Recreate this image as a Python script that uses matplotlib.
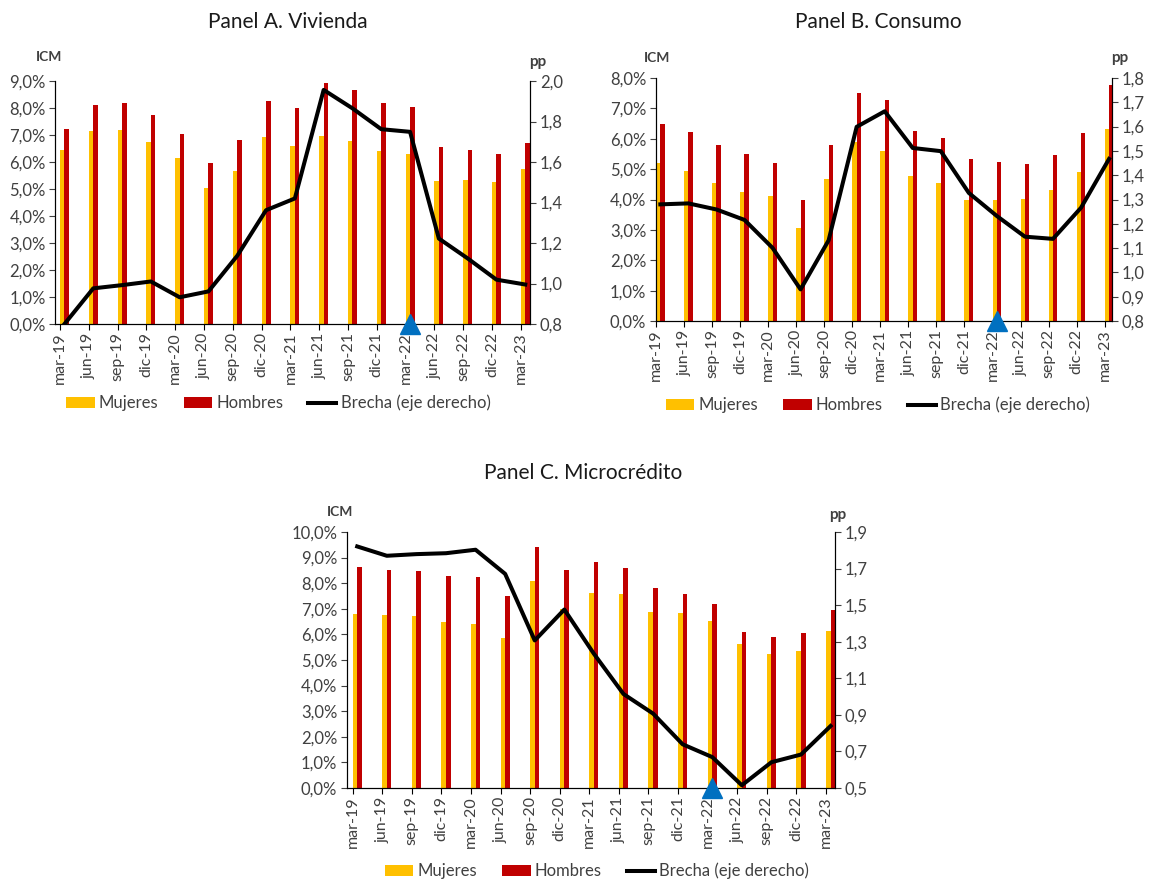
import matplotlib
matplotlib.use('Agg')
import matplotlib.pyplot as plt
import numpy as np
from matplotlib.ticker import FuncFormatter, MultipleLocator

plt.rcParams['font.family'] = ['Lato', 'DejaVu Sans']

fechas = ['mar-19', 'jun-19', 'sep-19', 'dic-19', 'mar-20', 'jun-20', 'sep-20', 'dic-20',
          'mar-21', 'jun-21', 'sep-21', 'dic-21', 'mar-22', 'jun-22', 'sep-22', 'dic-22', 'mar-23']

# Panel A. Vivienda
mujeres_a = [6.44, 7.14, 7.20, 6.74, 6.14, 5.03, 5.67, 6.92, 6.61, 6.97, 6.77, 6.41, 6.28, 5.31, 5.33, 5.25, 5.73]
hombres_a = [7.24, 8.11, 8.17, 7.75, 7.05, 5.98, 6.81, 8.26, 8.01, 8.91, 8.65, 8.17, 8.04, 6.55, 6.46, 6.29, 6.71]
brecha_a = [0.80, 0.976, 0.992, 1.010, 0.932, 0.961, 1.137, 1.362, 1.420, 1.956, 1.865, 1.762, 1.749, 1.222, 1.124, 1.019, 0.995]

# Panel B. Consumo
mujeres_b = [5.21, 4.94, 4.53, 4.26, 4.13, 3.05, 4.68, 5.90, 5.60, 4.78, 4.55, 4.00, 4.00, 4.02, 4.30, 4.92, 6.31]
hombres_b = [6.49, 6.22, 5.78, 5.50, 5.21, 3.97, 5.80, 7.50, 7.27, 6.27, 6.04, 5.32, 5.22, 5.17, 5.45, 6.18, 7.76]
brecha_b = [1.280, 1.284, 1.259, 1.216, 1.101, 0.930, 1.132, 1.599, 1.663, 1.512, 1.499, 1.327, 1.232, 1.147, 1.138, 1.266, 1.467]

# Panel C. Microcrédito
mujeres_c = [6.78, 6.75, 6.70, 6.50, 6.41, 5.85, 8.10, 7.01, 7.60, 7.56, 6.88, 6.82, 6.54, 5.61, 5.23, 5.35, 6.12]
hombres_c = [8.62, 8.51, 8.48, 8.28, 8.23, 7.50, 9.41, 8.51, 8.82, 8.60, 7.80, 7.56, 7.20, 6.09, 5.88, 6.04, 6.97]
brecha_c = [1.821, 1.770, 1.779, 1.784, 1.803, 1.671, 1.307, 1.476, 1.234, 1.014, 0.907, 0.739, 0.669, 0.515, 0.641, 0.683, 0.839]

marca = 'mar-22'

amarillo = '#FFC000'
rojo = '#C00000'
gris = '#404040'
W, H = 1154, 881


def pct(v, pos):
    return ('%.1f%%' % v).replace('.', ',')


def dec(v, pos):
    return ('%.1f' % v).replace('.', ',')


def panel(rect, mujeres, hombres, brecha, ymax, y2, paso2, xlim, titulo, tpos, icm, pp, leg):
    ax = fig.add_axes(rect)
    x = np.arange(len(fechas))
    w = 0.155
    ax.bar(x, mujeres, width=w, align='edge', color=amarillo, label='Mujeres', zorder=2)
    ax.bar(x + w, hombres, width=w, align='edge', color=rojo, label='Hombres', zorder=2)
    ax.set_ylim(0, ymax)
    ax.set_xlim(*xlim)
    ax.yaxis.set_major_locator(MultipleLocator(1))
    ax.yaxis.set_major_formatter(FuncFormatter(pct))
    ax.set_xticks(x)
    ax.set_xticklabels(fechas, rotation=90, fontsize=11.5, color=gris)
    ax.tick_params(axis='y', labelsize=12, colors=gris, length=4, pad=3)
    ax.tick_params(axis='x', length=4, pad=2)
    ax.spines['top'].set_visible(False)

    ax2 = ax.twinx()
    ax2.plot(x + w, brecha, color='black', lw=2.9, label='Brecha (eje derecho)', zorder=3)
    ax2.set_ylim(*y2)
    ax2.set_yticks(np.arange(y2[0], y2[1] + paso2 / 2, paso2))
    ax2.yaxis.set_major_formatter(FuncFormatter(dec))
    ax2.tick_params(axis='y', labelsize=12, colors=gris, length=4, pad=3)
    ax2.spines['top'].set_visible(False)
    i = fechas.index(marca)
    ax2.plot([i + w], [y2[0]], marker='^', markersize=15, color='#0070C0', clip_on=False, zorder=5)

    fig.text(tpos[0] / W, 1 - tpos[1] / H, titulo, ha='center', va='center', fontsize=15, color='#1a1a1a')
    fig.text(icm[0] / W, 1 - icm[1] / H, 'ICM', ha='center', va='center', fontsize=10, fontweight='bold', color=gris)
    fig.text(pp[0] / W, 1 - pp[1] / H, 'pp', ha='center', va='center', fontsize=11, fontweight='bold', color=gris)

    h1, l1 = ax.get_legend_handles_labels()
    h2, l2 = ax2.get_legend_handles_labels()
    ax.legend(h1 + h2, l1 + l2, loc='center', bbox_to_anchor=leg, ncol=3, frameon=False,
              fontsize=12, labelcolor=gris, handlelength=1.7, handleheight=0.6,
              handletextpad=0.25, columnspacing=1.5)


fig = plt.figure(figsize=(W / 100, H / 100), dpi=100)

panel([55.4 / W, 1 - 324 / H, 474.6 / W, 243 / H], mujeres_a, hombres_a, brecha_a,
      9, (0.8, 2.0), 0.2, (-0.16, 16.32), 'Panel A. Vivienda', (288, 22), (49, 57), (538, 62), (0.47, -0.325))
panel([656 / W, 1 - 321 / H, 456 / W, 243 / H], mujeres_b, hombres_b, brecha_b,
      8, (0.8, 1.8), 0.1, (0, 16.26), 'Panel B. Consumo', (878, 22), (657, 58), (1120, 58), (0.487, -0.346))
panel([347 / W, 1 - 788 / H, 487.6 / W, 256 / H], mujeres_c, hombres_c, brecha_c,
      10, (0.5, 1.9), 0.2, (-0.19, 16.29), 'Panel C. Microcrédito', (583, 473), (340, 512), (838, 515), (0.513, -0.324))

fig.savefig('out.png', dpi=100)
